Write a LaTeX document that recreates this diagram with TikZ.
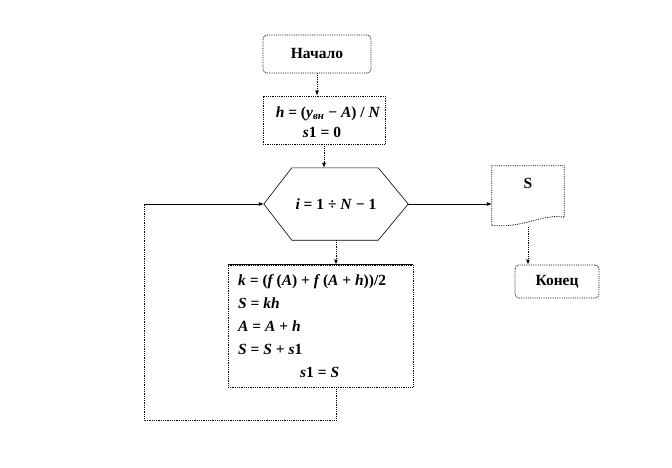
\documentclass[tikz,border=0pt]{standalone}
\usepackage{fontspec}
\setmainfont{Liberation Serif}
\usetikzlibrary{positioning, arrows.meta}
\newcommand{\vr}[1]{\textit{#1}}

\begin{document}
\begin{tikzpicture}[x=1pt, y=-1pt,
  every node/.style={font=\fontsize{15.5}{23}\selectfont\bfseries, align=center, inner sep=0pt},
  term/.style={draw, densely dotted, line width=0.8pt, rounded corners=4pt},
  procbox/.style={draw, densely dotted, line width=0.8pt},
  arrow/.style={-{Latex[length=5pt, width=4pt]}, densely dotted, line width=0.8pt}
]
  \useasboundingbox (0,0) rectangle (672,468);
  % blocks
  \node[term, minimum width=108pt, minimum height=38pt] (start) at (317,54) {Начало};
  \node[procbox, minimum width=122pt, minimum height=48pt] (init) at (324,120) {};
  \node[font=\fontsize{15.5}{20}\selectfont\bfseries] (inittext) at (328,122)
       {\vr{h} = (\vr{y}\textsubscript{\vr{вн}} − \vr{A}) / \vr{N}\\\hspace*{-12pt}\vr{s}1 = 0};
  \node[minimum width=144pt, minimum height=72pt] (loop) at (336,204)
       {\vr{i} = 1 ÷ \vr{N} − 1};
  \draw[line width=0.6pt] (loop.west) -- ([xshift=28pt]loop.north west) -- ([xshift=-30pt]loop.north east)
        -- (loop.east) -- ([xshift=-30pt]loop.south east) -- ([xshift=28pt]loop.south west) -- cycle;
  \node[procbox, minimum width=185pt, minimum height=122pt] (body) at (320.5,326) {};
  \draw[line width=0.6pt] (body.north west) -- (body.north east);
  \node[align=left, anchor=west] (bodytext) at (238,326)
       {\vr{k} = (\vr{f}\,(\vr{A}) + \vr{f}\,(\vr{A} + \vr{h}))/2\\
        \vr{S} = \vr{kh}\\
        \vr{A} = \vr{A} + \vr{h}\\
        \vr{S} = \vr{S} + \vr{s}1\\
        \hspace*{62pt}\vr{s}1 = \vr{S}};
  \node[minimum width=72pt, minimum height=51pt] (out) at (528,191.5) {};
  \draw[densely dotted, line width=0.8pt] ([yshift=-8pt]out.south west) -- (out.north west)
        -- (out.north east) -- (out.south east)
        .. controls ([xshift=-22pt, yshift=4pt]out.south east) and ([xshift=30pt, yshift=-12pt]out.south west)
        .. ([yshift=-8pt]out.south west);
  \node (outtext) at ([yshift=8pt]out.center) {S};
  \node[term, minimum width=84pt, minimum height=33pt] (stop) at (557,281.5) {Конец};
  % connectors
  \coordinate (back) at (144,204);
  \draw[arrow] (start) -- (start |- init.north);
  \draw[arrow] (init.south) -- (init.south |- loop.north);
  \draw[arrow] (loop.south) -- (loop.south |- body.north);
  \draw[densely dotted, line width=0.8pt] (loop.south |- body.south) -- ++(0,33) -| (back);
  \draw[-{Latex[length=5pt, width=4pt]}, line width=0.6pt] (back) -- (loop.west);
  \draw[-{Latex[length=5pt, width=4pt]}, line width=0.6pt] (loop.east) -- (loop.east -| out.west);
  \draw[arrow] ([yshift=-10pt]out.south) -- (out.south |- stop.north);
\end{tikzpicture}
\end{document}
